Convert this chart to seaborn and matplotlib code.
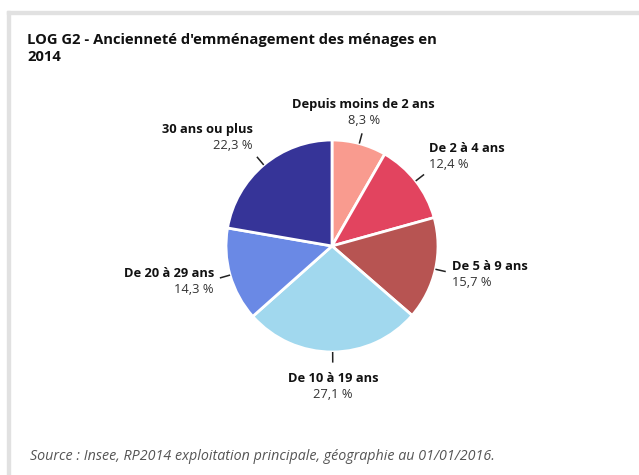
import numpy as np
import matplotlib
matplotlib.use("Agg")
import matplotlib.pyplot as plt
from matplotlib.patches import Rectangle
import seaborn as sns

# ---- data ----
categories = ["Depuis moins de 2 ans", "De 2 à 4 ans", "De 5 à 9 ans",
              "De 10 à 19 ans", "De 20 à 29 ans", "30 ans ou plus"]
values = [8.3, 12.4, 15.7, 27.1, 14.3, 22.3]
value_labels = ["8,3 %", "12,4 %", "15,7 %", "27,1 %", "14,3 %", "22,3 %"]
colors = ["#f99b8f", "#e2445f", "#b75452", "#a1d8ee", "#6a89e5", "#363498"]
title = "LOG G2 - Ancienneté d'emménagement des ménages en\n2014"
source = "Source : Insee, RP2014 exploitation principale, géographie au 01/01/2016."

sns.set_theme(style="white")
plt.rcParams["font.family"] = ["Open Sans", "DejaVu Sans"]

W, H = 639, 475
DPI = 100
fig = plt.figure(figsize=(W / DPI, H / DPI), dpi=DPI)
fig.patch.set_facecolor("white")

# frame (light gray top and left borders)
border = "#e1e1e1"
fig.patches.append(Rectangle((7 / W, 1 - 14 / H), (W - 7) / W, 3 / H,
                             transform=fig.transFigure, color=border, zorder=0))
fig.patches.append(Rectangle((7 / W, 0), 3 / W, 1 - 11 / H,
                             transform=fig.transFigure, color=border, zorder=0))

# pie axes
cx, cy, R = 332, 246, 106
ax = fig.add_axes([(cx - R) / W, (H - cy - R) / H, 2 * R / W, 2 * R / H])
wedges, _ = ax.pie(values, colors=colors, startangle=90, counterclock=False,
                   radius=1.0,
                   wedgeprops=dict(edgecolor="white", linewidth=2))
ax.set_xlim(-1, 1)
ax.set_ylim(-1, 1)
ax.set_aspect("equal")
ax.axis("off")

fs = 12.9 * 72 / DPI
for w, name, val in zip(wedges, categories, value_labels):
    ang = np.deg2rad((w.theta1 + w.theta2) / 2)
    c, s = np.cos(ang), np.sin(ang)
    ax.plot([c * 1.0, c * 1.1], [s * 1.0, s * 1.1], color="#222222",
            lw=1.1, clip_on=False, solid_capstyle="butt")
    px, py = c * 1.16, s * 1.16
    ha = "center" if abs(c) < 0.3 else ("left" if c > 0 else "right")
    if s > 0.5:
        off_name, off_val = 19, 3
    elif s < -0.5:
        off_name, off_val = -13, -29
    else:
        off_name, off_val = 3, -13
    ax.annotate(name, (px, py), xytext=(0, off_name), textcoords="offset pixels",
                ha=ha, va="baseline", fontsize=fs, fontweight="bold",
                color="#111111", annotation_clip=False)
    ax.annotate(val, (px, py), xytext=(0, off_val), textcoords="offset pixels",
                ha=ha, va="baseline", fontsize=fs, color="#333333",
                annotation_clip=False)

# title
fig.text(27 / W, 1 - 61 / H, title, ha="left", va="baseline",
         fontsize=14.8 * 72 / DPI, fontweight="bold", color="#111111",
         linespacing=1.25)
# source
fig.text(30 / W, 1 - 460 / H, source, ha="left", va="baseline",
         fontsize=14.2 * 72 / DPI, fontstyle="italic", color="#555555")

fig.savefig("out.png", dpi=DPI)
